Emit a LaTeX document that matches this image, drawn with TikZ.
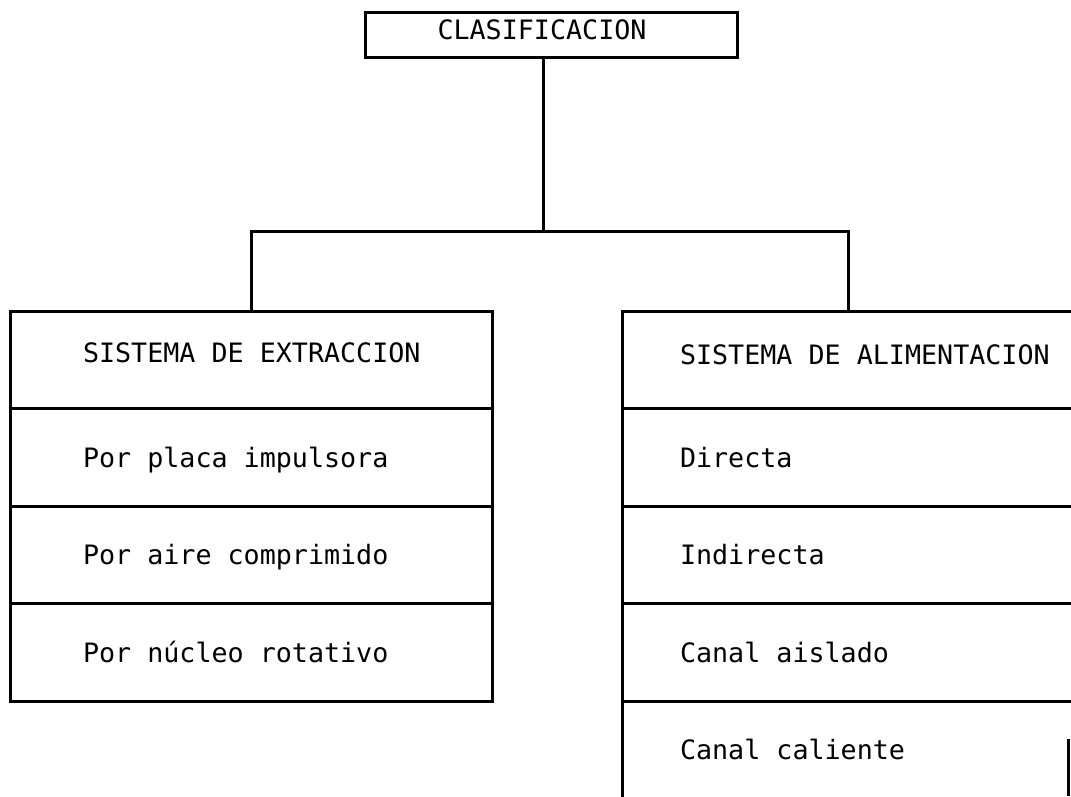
\documentclass[tikz,border=0pt]{standalone}
\usepackage{fontspec}
\newfontfamily\gothic{DejaVu Sans Mono}
\begin{document}
\begin{tikzpicture}[x=1pt,y=-1pt,
  line width=3pt,
  every node/.style={font=\gothic\fontsize{26.7}{30}\selectfont},
  rootbox/.style={draw, rectangle, minimum width=372pt, minimum height=45pt, inner sep=0pt},
  cell/.style={draw, rectangle, minimum height=97.5pt, inner sep=0pt},
  lcell/.style={cell, minimum width=482pt},
  rcell/.style={cell, minimum width=452pt},
  lbl/.style={anchor=west, inner sep=0pt, text height=19.5pt, text depth=0pt}]
\useasboundingbox (0,0) rectangle (1071,796);

% root of the classification
\node[rootbox] (root) at (551,34.5) {};
\node[lbl, anchor=center] (roottxt) at (542,30) {CLASIFICACION};

% extraction system column
\node[lcell] (ext)  at (251,359.75) {};
\node[lcell] (ext1) at (251,457.25) {};
\node[lcell] (ext2) at (251,554.75) {};
\node[lcell] (ext3) at (251,652.25) {};
\node[lbl] (extT)  at ([xshift=73pt,yshift=7pt]ext.west)  {SISTEMA DE EXTRACCION};
\node[lbl] (ext1T) at ([xshift=73pt]ext1.west) {Por placa impulsora};
\node[lbl] (ext2T) at ([xshift=73pt]ext2.west) {Por aire comprimido};
\node[lbl] (ext3T) at ([xshift=73pt]ext3.west) {Por núcleo rotativo};

% feeding system column
\node[rcell] (ali)  at (848,359.75) {};
\node[rcell] (ali1) at (848,457.25) {};
\node[rcell] (ali2) at (848,554.75) {};
\node[rcell] (ali3) at (848,652.25) {};
\node[rcell] (ali4) at (848,749.75) {};
\node[lbl] (aliT)  at ([xshift=58pt,yshift=5pt]ali.west)  {SISTEMA DE ALIMENTACION};
\node[lbl] (ali1T) at ([xshift=58pt]ali1.west) {Directa};
\node[lbl] (ali2T) at ([xshift=58pt]ali2.west) {Indirecta};
\node[lbl] (ali3T) at ([xshift=58pt]ali3.west) {Canal aislado};
\node[lbl] (ali4T) at ([xshift=58pt]ali4.west) {Canal caliente};
\draw (1068,739) -- (1068,796);

% connectors
\coordinate (trunk) at (543,231);
\coordinate (busL) at (251,231);
\coordinate (busR) at (848,231);
\draw (root.south -| trunk) -- (trunk);
\draw (ext.north) -- (busL) -- (busR) -- (ali.north);
\end{tikzpicture}
\end{document}
